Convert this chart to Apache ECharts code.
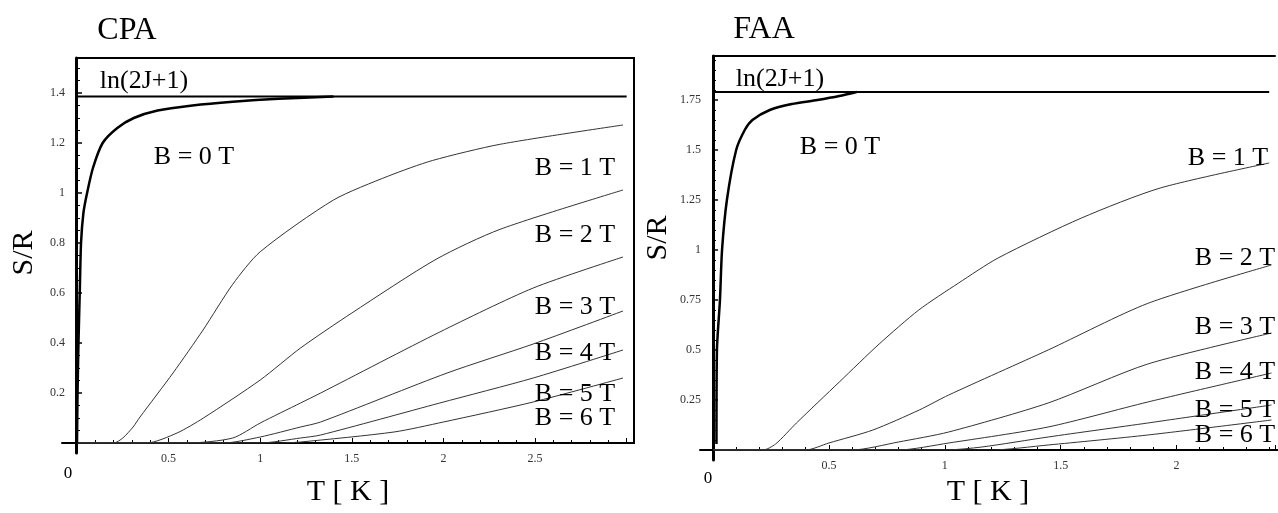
<!DOCTYPE html>
<html><head><meta charset="utf-8">
<script src="https://cdn.jsdelivr.net/npm/echarts@6/dist/echarts.min.js"></script>
<style>html,body{margin:0;padding:0;background:#fff}#c{width:1278px;height:513px}</style>
</head><body><div id="c"></div>
<script>
// ---------- data ----------
const panelTitles = ['CPA', 'FAA'];
const fieldLabels = ['B = 0 T', 'B = 1 T', 'B = 2 T', 'B = 3 T', 'B = 4 T', 'B = 5 T', 'B = 6 T'];
const limitLabel = 'ln(2J+1)';
const xTitle = 'T [ K ]';
const yTitle = 'S/R';

// CPA panel  (T in K, S/R)
const cpaLimitT = [0, 3.0];
const cpaLimitS = [1.386, 1.386];
const cpaT0 = [0, 0.003, 0.008, 0.015, 0.022, 0.035, 0.055, 0.087, 0.14, 0.22, 0.31, 0.44, 0.63, 0.85, 1.1, 1.4];
const cpaS0 = [0, 0.2, 0.4, 0.6, 0.8, 0.92, 1.0, 1.1, 1.2, 1.26, 1.3, 1.33, 1.35, 1.365, 1.377, 1.386];
const cpaT1 = [0, 0.2, 0.25, 0.306, 0.344, 0.524, 0.688, 0.85, 1.0, 1.4, 1.7, 1.94, 2.31, 2.98];
const cpaS1 = [0, 0, 0.02, 0.064, 0.104, 0.28, 0.452, 0.635, 0.765, 0.972, 1.068, 1.13, 1.195, 1.272];
const cpaT2 = [0, 0.38, 0.546, 0.69, 1.0, 1.22, 1.5, 1.96, 2.31, 2.98];
const cpaS2 = [0, 0, 0.04, 0.1, 0.252, 0.38, 0.52, 0.735, 0.855, 1.012];
const cpaT3 = [0, 0.6, 0.85, 1.0, 1.22, 1.33, 1.98, 2.49, 2.98];
const cpaS3 = [0, 0, 0.02, 0.08, 0.16, 0.2, 0.444, 0.62, 0.744];
const cpaT4 = [0, 0.8, 1.0, 1.22, 1.33, 2.02, 2.49, 2.98];
const cpaS4 = [0, 0, 0.024, 0.064, 0.084, 0.28, 0.396, 0.528];
const cpaT5 = [0, 1.0, 1.22, 1.33, 1.98, 2.49, 2.98];
const cpaS5 = [0, 0, 0.02, 0.032, 0.16, 0.26, 0.372];
const cpaT6 = [0, 1.1, 1.22, 1.73, 2.0, 2.49, 2.98];
const cpaS6 = [0, 0, 0.004, 0.044, 0.084, 0.164, 0.26];

// FAA panel
const faaLimitT = [0, 2.4];
const faaLimitS = [1.79, 1.79];
const faaT0 = [0.015, 0.017, 0.03, 0.039, 0.06, 0.10, 0.137, 0.17, 0.245, 0.34, 0.45, 0.545, 0.62];
const faaS0 = [0.03, 0.5, 0.75, 1.0, 1.25, 1.5, 1.6, 1.65, 1.7, 1.73, 1.75, 1.77, 1.79];
const faaT1 = [0, 0.215, 0.27, 0.36, 0.545, 0.717, 0.888, 1.06, 1.23, 1.59, 1.93, 2.40];
const faaS1 = [0, 0, 0.03, 0.135, 0.34, 0.53, 0.7, 0.835, 0.96, 1.16, 1.31, 1.435];
const faaT2 = [0, 0.40, 0.5, 0.69, 0.89, 1.017, 1.446, 1.876, 2.41];
const faaS2 = [0, 0, 0.035, 0.1, 0.2, 0.275, 0.5, 0.733, 0.925];
const faaT3 = [0, 0.6, 0.8, 1.017, 1.446, 1.876, 2.41];
const faaS3 = [0, 0, 0.04, 0.09, 0.235, 0.43, 0.585];
const faaT4 = [0, 0.8, 1.017, 1.446, 1.876, 2.41];
const faaS4 = [0, 0, 0.035, 0.115, 0.24, 0.385];
const faaT5 = [0, 1.0, 1.16, 1.446, 1.876, 2.41];
const faaS5 = [0, 0, 0.015, 0.065, 0.135, 0.225];
const faaT6 = [0, 1.2, 1.446, 1.876, 2.41];
const faaS6 = [0, 0, 0.025, 0.075, 0.15];

// ---------- build ----------
const FONT = '"Liberation Serif", "Times New Roman", serif';
const zip = (a, b) => a.map((v, i) => [v, b[i]]);

function onGrid(v, step) { return Math.abs(v / step - Math.round(v / step)) < 1e-6; }

function dataX(idx, max, labelMax) {
  return {
    type: 'value', gridIndex: idx, min: 0, max: max, interval: 0.5,
    axisLine: { show: false }, splitLine: { show: false },
    axisTick: { show: true, inside: true, length: 5, lineStyle: { color: '#000', width: 1 } },
    minorTick: { show: true, splitNumber: 5, length: 3, lineStyle: { color: '#000', width: 1 } },
    axisLabel: {
      margin: 10, fontFamily: FONT, fontSize: 12, color: '#333',
      formatter: v => (v > 0 && v <= labelMax && onGrid(v, 0.5)) ? String(v) : ''
    }
  };
}
function dataY(idx, max, step, split) {
  return {
    type: 'value', gridIndex: idx, min: 0, max: max, interval: step,
    axisLine: { show: false }, splitLine: { show: false },
    axisTick: { show: true, inside: true, length: 5, lineStyle: { color: '#000', width: 1.5 } },
    minorTick: { show: true, splitNumber: split, length: 3, lineStyle: { color: '#000', width: 1 } },
    axisLabel: {
      margin: 12, fontFamily: FONT, fontSize: 12, color: '#333',
      formatter: v => (v > 0 && onGrid(v, step)) ? String(v) : ''
    }
  };
}
function stubAxis(idx, min, max, w) {
  return {
    type: 'value', gridIndex: idx, min: min, max: max,
    axisLine: { show: true, onZero: true, lineStyle: { color: '#000', width: w } },
    axisTick: { show: false }, axisLabel: { show: false }, splitLine: { show: false }
  };
}
function topFrameAxis(idx, max) {
  return {
    type: 'value', gridIndex: idx, min: 0, max: max, position: 'top',
    axisLine: { show: true, onZero: false, lineStyle: { color: '#000', width: 2 } },
    axisTick: { show: false }, axisLabel: { show: false }, splitLine: { show: false }
  };
}

function thin(name, T, S, xi) {
  return {
    name: name, type: 'line', xAxisIndex: xi, yAxisIndex: xi, data: zip(T, S),
    showSymbol: false, symbol: 'none', smooth: 0.25,
    lineStyle: { color: '#333', width: 1 }, silent: true, z: 3
  };
}
function thick(name, T, S, xi, w) {
  return {
    name: name, type: 'line', xAxisIndex: xi, yAxisIndex: xi, data: zip(T, S),
    showSymbol: false, symbol: 'none', smooth: 0.25,
    lineStyle: { color: '#000', width: w }, silent: true, z: 4
  };
}

const series = [
  thick('CPA ' + limitLabel, cpaLimitT, cpaLimitS, 0, 2),
  thick('CPA ' + fieldLabels[0], cpaT0, cpaS0, 0, 2.5),
  thin('CPA ' + fieldLabels[1], cpaT1, cpaS1, 0),
  thin('CPA ' + fieldLabels[2], cpaT2, cpaS2, 0),
  thin('CPA ' + fieldLabels[3], cpaT3, cpaS3, 0),
  thin('CPA ' + fieldLabels[4], cpaT4, cpaS4, 0),
  thin('CPA ' + fieldLabels[5], cpaT5, cpaS5, 0),
  thin('CPA ' + fieldLabels[6], cpaT6, cpaS6, 0),
  thick('FAA ' + limitLabel, faaLimitT, faaLimitS, 2, 2),
  thick('FAA ' + fieldLabels[0], faaT0, faaS0, 2, 2.5),
  thin('FAA ' + fieldLabels[1], faaT1, faaS1, 2),
  thin('FAA ' + fieldLabels[2], faaT2, faaS2, 2),
  thin('FAA ' + fieldLabels[3], faaT3, faaS3, 2),
  thin('FAA ' + fieldLabels[4], faaT4, faaS4, 2),
  thin('FAA ' + fieldLabels[5], faaT5, faaS5, 2),
  thin('FAA ' + fieldLabels[6], faaT6, faaS6, 2)
];

function txt(s, x, y, size, extra) {
  return Object.assign({
    type: 'text', x: x, y: y, silent: true, z: 10,
    style: { text: s, fontFamily: FONT, fontSize: size, fill: '#000', align: 'center', verticalAlign: 'middle' }
  }, extra || {});
}

const LBL = 26;
const graphic = [
  txt(panelTitles[0], 127, 31, 32),
  txt(panelTitles[1], 764, 30, 32),
  txt(limitLabel, 144, 81, LBL),
  txt(limitLabel, 780, 79, LBL),
  txt(fieldLabels[0], 194, 157, LBL),
  txt(fieldLabels[1], 575, 168, LBL),
  txt(fieldLabels[2], 575, 235, LBL),
  txt(fieldLabels[3], 575, 307, LBL),
  txt(fieldLabels[4], 575, 353, LBL),
  txt(fieldLabels[5], 575, 394, LBL),
  txt(fieldLabels[6], 575, 418, LBL),
  txt(fieldLabels[0], 840, 147, LBL),
  txt(fieldLabels[1], 1228, 158, LBL),
  txt(fieldLabels[2], 1235, 258, LBL),
  txt(fieldLabels[3], 1235, 327, LBL),
  txt(fieldLabels[4], 1235, 372, LBL),
  txt(fieldLabels[5], 1235, 410, LBL),
  txt(fieldLabels[6], 1235, 435, LBL),
  txt('0', 68, 474, 17),
  txt('0', 708, 479, 17),
  txt(xTitle, 348, 492, 30),
  txt(xTitle, 988, 492, 30),
  txt(yTitle, 24, 253, 30, { rotation: Math.PI / 2 }),
  txt(yTitle, 658, 238, 30, { rotation: Math.PI / 2 })
];

const option = {
  animation: false,
  backgroundColor: '#fff',
  grid: [
    { left: 77, right: 644, top: 58, bottom: 70, show: true, borderColor: '#000', borderWidth: 2, backgroundColor: 'transparent' },
    { left: 62, right: 644, top: 58, bottom: 60, show: false },
    { left: 713, right: 0, top: 56, bottom: 63, show: false },
    { left: 700, right: 0, top: 56, bottom: 53, show: false }
  ],
  xAxis: [
    dataX(0, 3.04, 2.9),
    stubAxis(1, -0.08, 3.04, 2),
    dataX(2, 2.425, 2.3),
    stubAxis(3, -0.056, 2.425, 2),
    topFrameAxis(2, 2.425)
  ],
  yAxis: [
    dataY(0, 1.54, 0.2, 4),
    stubAxis(1, -0.04, 1.545, 3),
    dataY(2, 1.97, 0.25, 5),
    stubAxis(3, -0.05, 1.97, 3)
  ],
  series: series,
  graphic: graphic
};

const chart = echarts.init(document.getElementById('c'), null, { renderer: 'canvas' });
chart.setOption(option);
</script>
</body></html>
